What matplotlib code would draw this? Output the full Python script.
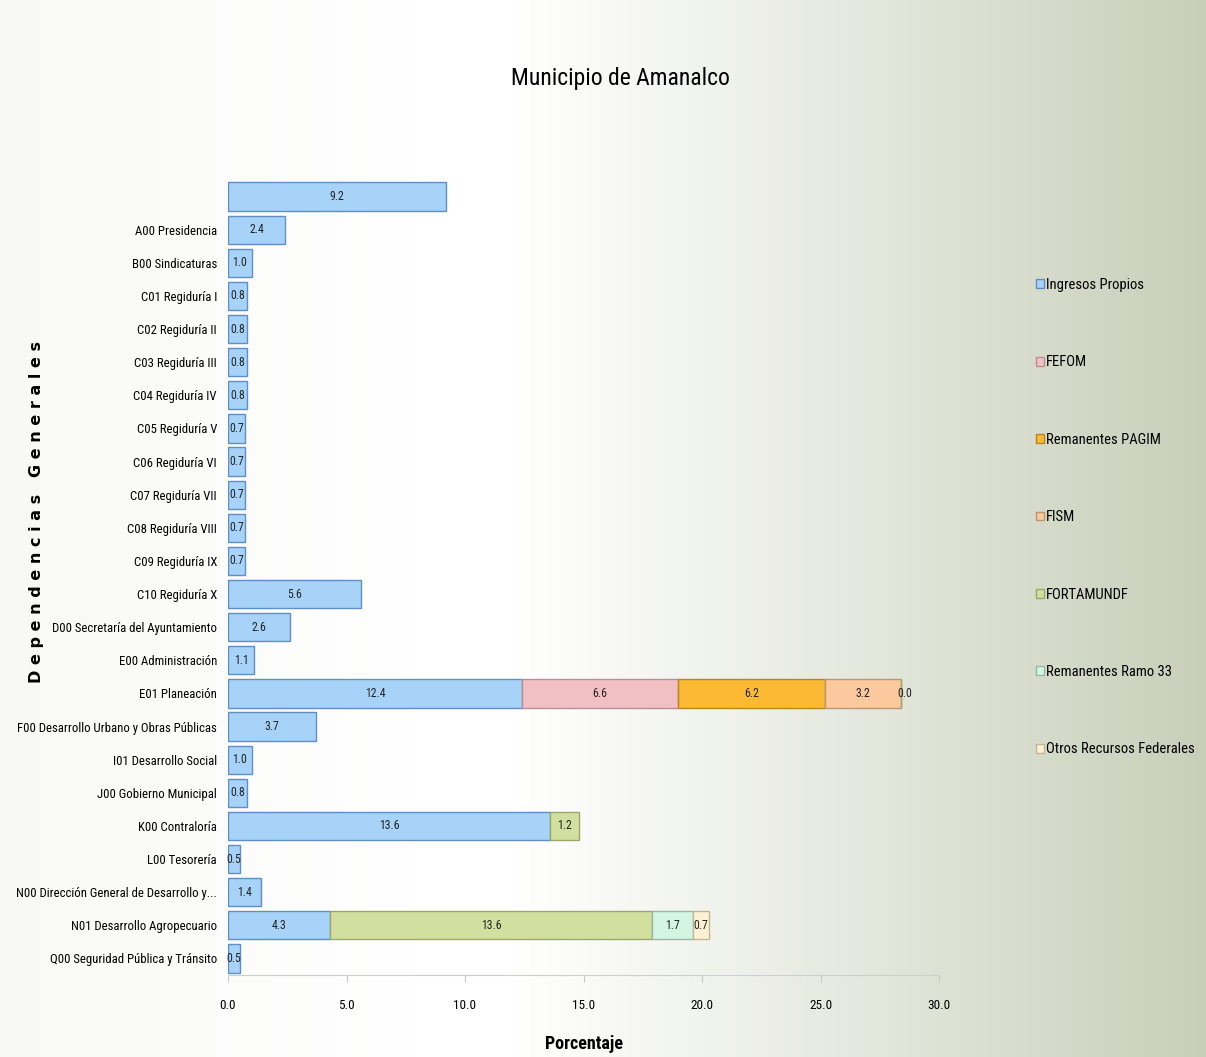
import numpy as np
import matplotlib
matplotlib.use("Agg")
import matplotlib.pyplot as plt
from matplotlib.colors import LinearSegmentedColormap

plt.rcParams['font.family'] = ['Roboto Condensed', 'Open Sans Condensed', 'DejaVu Sans']
plt.rcParams['font.stretch'] = 'condensed'

categories = [
    "", "A00 Presidencia", "B00 Sindicaturas", "C01 Regiduría I", "C02 Regiduría II",
    "C03 Regiduría III", "C04 Regiduría IV", "C05 Regiduría V", "C06 Regiduría VI",
    "C07 Regiduría VII", "C08 Regiduría VIII", "C09 Regiduría IX", "C10 Regiduría X",
    "D00 Secretaría del Ayuntamiento", "E00 Administración", "E01 Planeación",
    "F00 Desarrollo Urbano y Obras Públicas", "I01 Desarrollo Social",
    "J00 Gobierno Municipal", "K00 Contraloría", "L00 Tesorería",
    "N00 Dirección General de Desarrollo y...", "N01 Desarrollo Agropecuario",
    "Q00 Seguridad Pública y Tránsito",
]

series_names = ["Ingresos Propios", "FEFOM", "Remanentes PAGIM", "FISM",
                "FORTAMUNDF", "Remanentes Ramo 33", "Otros Recursos Federales"]

nan = np.nan
ingresos_propios = [9.2, 2.4, 1.0, 0.8, 0.8, 0.8, 0.8, 0.7, 0.7, 0.7, 0.7, 0.7, 5.6,
                    2.6, 1.1, 12.4, 3.7, 1.0, 0.8, 13.6, 0.5, 1.4, 4.3, 0.5]
fefom = [nan] * 15 + [6.6] + [nan] * 8
remanentes_pagim = [nan] * 15 + [6.2] + [nan] * 8
fism = [nan] * 15 + [3.2] + [nan] * 8
fortamundf = [nan] * 15 + [0.0] + [nan] * 3 + [1.2] + [nan] * 2 + [13.6] + [nan]
remanentes_ramo33 = [nan] * 22 + [1.7] + [nan]
otros_federales = [nan] * 22 + [0.7] + [nan]

x_ticks = [0, 5, 10, 15, 20, 25, 30]

series = [ingresos_propios, fefom, remanentes_pagim, fism,
          fortamundf, remanentes_ramo33, otros_federales]
colors = ["#a6d3f7", "#f2c0c2", "#fbb934", "#fbc99d", "#d3df9e", "#d3f5e2", "#fdf1d3"]
edges = ["#5f8fc4", "#b88f92", "#b8861c", "#c09672", "#9aa76a", "#98b8a6", "#c4b694"]

W, H = 1206, 1057
fig = plt.figure(figsize=(W / 100, H / 100), dpi=100)

# background gradient: white on the left/centre fading to grey-green on the right
bg = fig.add_axes([0, 0, 1, 1], zorder=-10)
gx = np.linspace(0, 1, 400)
gy = np.linspace(0, 1, 400)
GX, GY = np.meshgrid(gx, gy)
t = np.clip((GX - 0.42) / 0.58, 0, 1) ** 1.1
t = np.maximum(t, 0.12 * np.clip((0.35 - GX) / 0.35, 0, 1))
cmap = LinearSegmentedColormap.from_list("bgc", ["#ffffff", "#c8cfb9"])
bg.imshow(t, cmap=cmap, vmin=0, vmax=1, extent=[0, 1, 0, 1], aspect="auto", origin="lower")
bg.set_xlim(0, 1); bg.set_ylim(0, 1)
bg.axis("off")

ax = fig.add_axes([228 / W, 1 - 975 / H, (939 - 228) / W, (975 - 180) / H])
ax.patch.set_alpha(0)

y = np.arange(len(categories))
left = np.zeros(len(categories))
for name, vals, c, ec in zip(series_names, series, colors, edges):
    v = np.array(vals, dtype=float)
    mask = ~np.isnan(v)
    vv = np.where(mask, v, 0.0)
    bars = ax.barh(y[mask], vv[mask], left=left[mask], height=0.85, color=c,
                   edgecolor=ec, linewidth=1.0, label=name)
    for b, val in zip(bars, vv[mask]):
        cx = b.get_x() + b.get_width() / 2
        ax.text(cx if val > 0 else b.get_x() + 0.15, b.get_y() + b.get_height() / 2,
                f"{val:.1f}", ha="center", va="center", fontsize=8.5, color="#222222")
    left = left + vv

ax.set_ylim(len(categories) - 0.5, -0.5)
ax.set_xlim(0, 30)
ax.set_yticks(y)
ax.set_yticklabels(categories, fontsize=9.2)
ax.set_xticks(x_ticks)
ax.set_xticklabels([f"{v:.1f}" for v in x_ticks], fontsize=9.5)
ax.tick_params(axis="y", length=0, pad=8)
ax.tick_params(axis="x", length=5, direction="out", color="#c8c8c8", pad=12)
for s in ["top", "right", "left"]:
    ax.spines[s].set_visible(False)
ax.spines["bottom"].set_color("#cfcfcf")

ax.set_xlabel("Porcentaje", fontsize=13, fontweight="bold", labelpad=17)
fig.text(37 / W, 1 - 512 / H, "D e p e n d e n c i a s   G e n e r a l e s",
         rotation=90, ha="center", va="center", fontsize=11.5, fontweight="bold",
         family="DejaVu Sans", stretch="normal")

fig.text(620 / W, 1 - 78 / H, "Municipio de Amanalco", ha="center", va="center",
         fontsize=17)

leg = fig.legend(loc="upper left", bbox_to_anchor=(1030 / W, 1 - 272 / H),
                 frameon=False, fontsize=10.5, handlelength=0.55, handleheight=0.55,
                 handletextpad=0.15, labelspacing=4.35, borderaxespad=0)

fig.savefig("out.png", dpi=100)
